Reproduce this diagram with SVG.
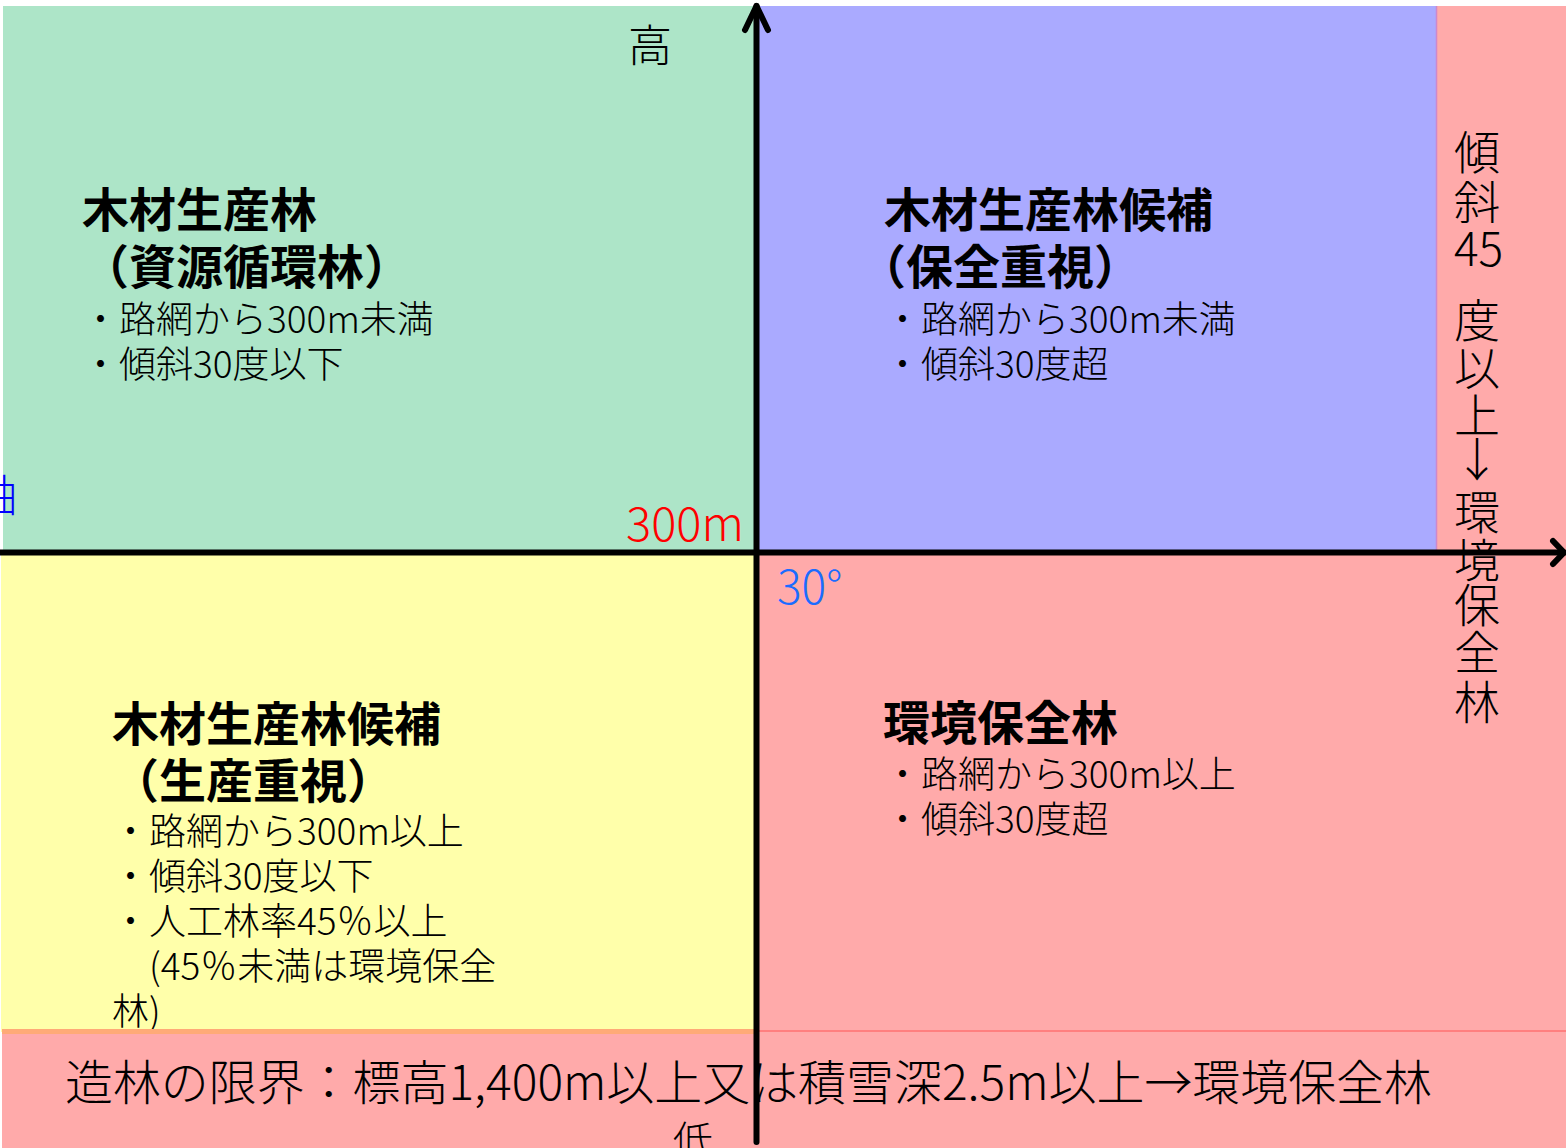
<svg xmlns="http://www.w3.org/2000/svg" width="1566" height="1148" viewBox="0 0 1566 1148">
<style>
text{font-family:"Noto Sans CJK JP","Noto Sans",sans-serif;fill:#000;font-weight:300}
.h{font-size:47px;font-weight:bold}
.b{font-size:37px}
.v{font-size:46px}
.axis{stroke:#000;stroke-width:6;fill:none;stroke-linecap:round;stroke-linejoin:round}
</style>
<rect x="0" y="0" width="1566" height="1148" fill="#ffffff"/>
<g id="q-top-left">
<rect x="3" y="6" width="754" height="546" fill="#ade5c8"/>
<text class="h" x="82" y="227">木材生産林</text>
<text class="h" x="82" y="284">（資源循環林）</text>
<text class="b" x="82" y="333">・路網から300m未満</text>
<text class="b" x="82" y="378">・傾斜30度以下</text>
</g>
<g id="q-top-right">
<rect x="757" y="6" width="679" height="546" fill="#aaaaff"/>
<text class="h" x="884" y="227">木材生産林候補</text>
<text class="h" x="859" y="284">（保全重視）</text>
<text class="b" x="884" y="333">・路網から300m未満</text>
<text class="b" x="884" y="378">・傾斜30度超</text>
</g>
<g id="q-bottom-left">
<rect x="1" y="552" width="756" height="480" fill="#ffffaa"/>
<text class="h" x="112" y="741">木材生産林候補</text>
<text class="h" x="112" y="798">（生産重視）</text>
<text class="b" x="112" y="845">・路網から300m以上</text>
<text class="b" x="112" y="890">・傾斜30度以下</text>
<text class="b" x="112" y="935">・人工林率45％以上</text>
<text class="b" x="112" y="980">　(45％未満は環境保全</text>
<text class="b" x="112" y="1025">林)</text>
</g>
<g id="q-bottom-right">
<rect x="757" y="552" width="679" height="480" fill="#ffaaaa"/>
<text class="h" x="883" y="740">環境保全林</text>
<text class="b" x="884" y="788">・路網から300m以上</text>
<text class="b" x="884" y="833">・傾斜30度超</text>
</g>
<g id="steep-strip">
<rect x="1436" y="6" width="130" height="1026" fill="#ffaaaa"/>
<line x1="1436.5" y1="6" x2="1436.5" y2="552" stroke="#cc88cc" stroke-width="1.5"/>
<text class="v"><tspan x="1454" y="169">傾</tspan><tspan x="1454" y="219">斜</tspan><tspan x="1454" y="266">45</tspan><tspan x="1454" y="337">度</tspan><tspan x="1454" y="385">以</tspan><tspan x="1454" y="432">上</tspan><tspan x="1454" y="476">↓</tspan><tspan x="1454" y="529">環</tspan><tspan x="1454" y="577">境</tspan><tspan x="1454" y="622">保</tspan><tspan x="1454" y="669">全</tspan><tspan x="1454" y="719">林</tspan></text>
</g>
<g id="limit-band">
<rect x="2" y="1031" width="1564" height="117" fill="#ffaaaa"/>
<rect x="2" y="1029" width="755" height="5" fill="#ffaa77"/>
<line x1="757" y1="1031" x2="1566" y2="1031" stroke="#ff7f7f" stroke-width="2"/>
<text x="65" y="1100" style="font-size:48px" textLength="1367" lengthAdjust="spacingAndGlyphs">造林の限界：標高1,400m以上又は積雪深2.5m以上→環境保全林</text>
</g>
<g id="labels">
<text x="628" y="62" style="font-size:44px">高</text>
<text x="673" y="1155" style="font-size:40px">低</text>
<text x="626" y="541" style="font-size:47px;fill:#ff0000">300m</text>
<text x="777" y="604" style="font-size:46px;fill:#1a6cff">30°</text>
<text x="-27" y="512" style="font-size:44px;fill:#0000ff">軸</text>
</g>
<g id="connectors">
<line class="axis" x1="0" y1="552.5" x2="1564" y2="552.5"/>
<polyline class="axis" points="1553,541 1564,552.5 1553,564"/>
<line class="axis" x1="756.5" y1="1142" x2="756.5" y2="6"/>
<polyline class="axis" points="745,30 756.5,6 768,30"/>
</g>
</svg>
